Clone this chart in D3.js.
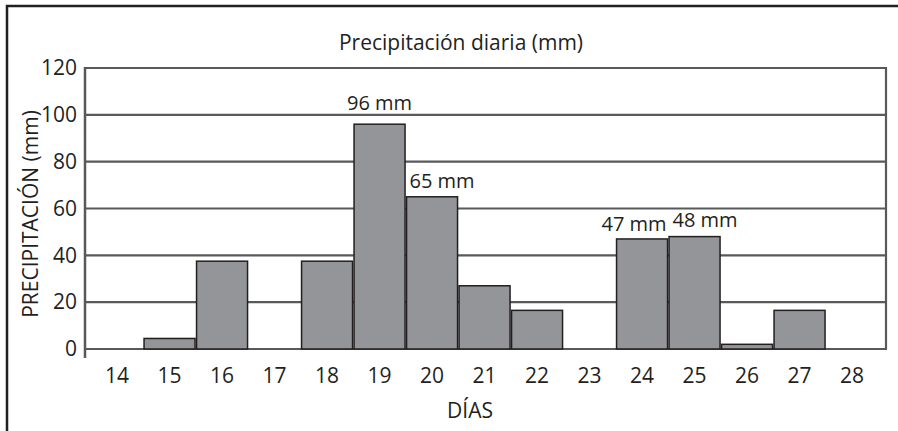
<!DOCTYPE html>
<html>
<head>
<meta charset="utf-8">
<script src="https://cdn.jsdelivr.net/npm/d3@7"></script>
<style>
  html, body { margin: 0; padding: 0; background: #fff; }
  svg { display: block; }
  text { font-family: "Open Sans", "Noto Sans", sans-serif; fill: #231f20; }
</style>
</head>
<body>
<svg id="chart" width="898" height="431"></svg>
<script>
// Daily precipitation, days 14 to 28
const days = ["14", "15", "16", "17", "18", "19", "20", "21", "22", "23", "24", "25", "26", "27", "28"];
const rain = [0, 4.5, 37.5, 0, 37.5, 96, 65, 27, 16.5, 0, 47, 48, 2, 16.5, 0];
const yTicks = [0, 20, 40, 60, 80, 100, 120];
// Days whose bars carry a value label
const labelledDays = ["19", "20", "24", "25"];

const title = "Precipitación diaria (mm)";
const yTitle = "PRECIPITACIÓN (mm)";
const xTitle = "DÍAS";

const svg = d3.select("#chart");
const W = 898, H = 431;
const plot = { left: 85, right: 886, top: 68, bottom: 349 };
const fs = 21;

// Outer frame
svg.append("rect")
  .attr("x", 7).attr("y", 6)
  .attr("width", W + 10).attr("height", H + 10)
  .attr("fill", "none").attr("stroke", "#231f20").attr("stroke-width", 2.5);

const x = d3.scaleBand().domain(days).range([90.8, 878.3]).paddingInner(0).paddingOuter(0);
const y = d3.scaleLinear().domain([0, 120]).range([plot.bottom, plot.top]);

// Horizontal gridlines
svg.append("g").selectAll("line").data(yTicks).join("line")
  .attr("x1", plot.left).attr("x2", plot.right)
  .attr("y1", d => y(d)).attr("y2", d => y(d))
  .attr("stroke", "#58595b").attr("stroke-width", 2.2);

// Right border of the plot
svg.append("line")
  .attr("x1", plot.right).attr("x2", plot.right)
  .attr("y1", y(120) - 1).attr("y2", y(0) + 1)
  .attr("stroke", "#58595b").attr("stroke-width", 2.2);

// Bars
const bw = x.bandwidth() - 1.5;
svg.append("g").selectAll("rect").data(days.map((d, i) => ({ day: d, v: rain[i] })).filter(d => d.v > 0))
  .join("rect")
  .attr("x", d => x(d.day) + 0.75)
  .attr("y", d => y(d.v))
  .attr("width", bw)
  .attr("height", d => y(0) - y(d.v))
  .attr("fill", "#939598")
  .attr("stroke", "#231f20")
  .attr("stroke-width", 1.5);

// Left axis with ticks as labels
const yAxis = d3.axisLeft(y).tickValues(yTicks).tickSize(0).tickPadding(8);
const gy = svg.append("g").attr("transform", `translate(${plot.left},0)`).call(yAxis);
gy.select(".domain").remove();
gy.selectAll("text").attr("font-size", fs).attr("font-family", "'Open Sans', sans-serif").attr("fill", "#231f20");
svg.append("line")
  .attr("x1", plot.left).attr("x2", plot.left)
  .attr("y1", y(120) - 1).attr("y2", y(0) + 9)
  .attr("stroke", "#58595b").attr("stroke-width", 2.5);

// Bottom axis labels
const xAxis = d3.axisBottom(x).tickSize(0).tickPadding(19);
const gx = svg.append("g").attr("transform", `translate(0,${plot.bottom})`).call(xAxis);
gx.select(".domain").remove();
gx.selectAll("text").attr("font-size", fs).attr("font-family", "'Open Sans', sans-serif").attr("fill", "#231f20");

// Value labels over the highlighted bars
const labelShift = { "19": 0, "20": 10, "24": -8, "25": 10.5 };
const labelLift = { "19": 14, "20": 9, "24": 8, "25": 10 };
svg.append("g").selectAll("text").data(labelledDays).join("text")
  .attr("x", d => x(d) + x.bandwidth() / 2 + labelShift[d])
  .attr("y", d => y(rain[days.indexOf(d)]) - labelLift[d])
  .attr("text-anchor", "middle")
  .attr("font-size", fs - 1)
  .text(d => `${rain[days.indexOf(d)]} mm`);

// Titles
svg.append("text").attr("x", 461).attr("y", 50)
  .attr("text-anchor", "middle").attr("font-size", fs).text(title);
svg.append("text").attr("x", 470).attr("y", 418)
  .attr("text-anchor", "middle").attr("font-size", fs).text(xTitle);
svg.append("text")
  .attr("transform", "translate(38,214) rotate(-90)")
  .attr("text-anchor", "middle").attr("font-size", fs).text(yTitle);
</script>
</body>
</html>
